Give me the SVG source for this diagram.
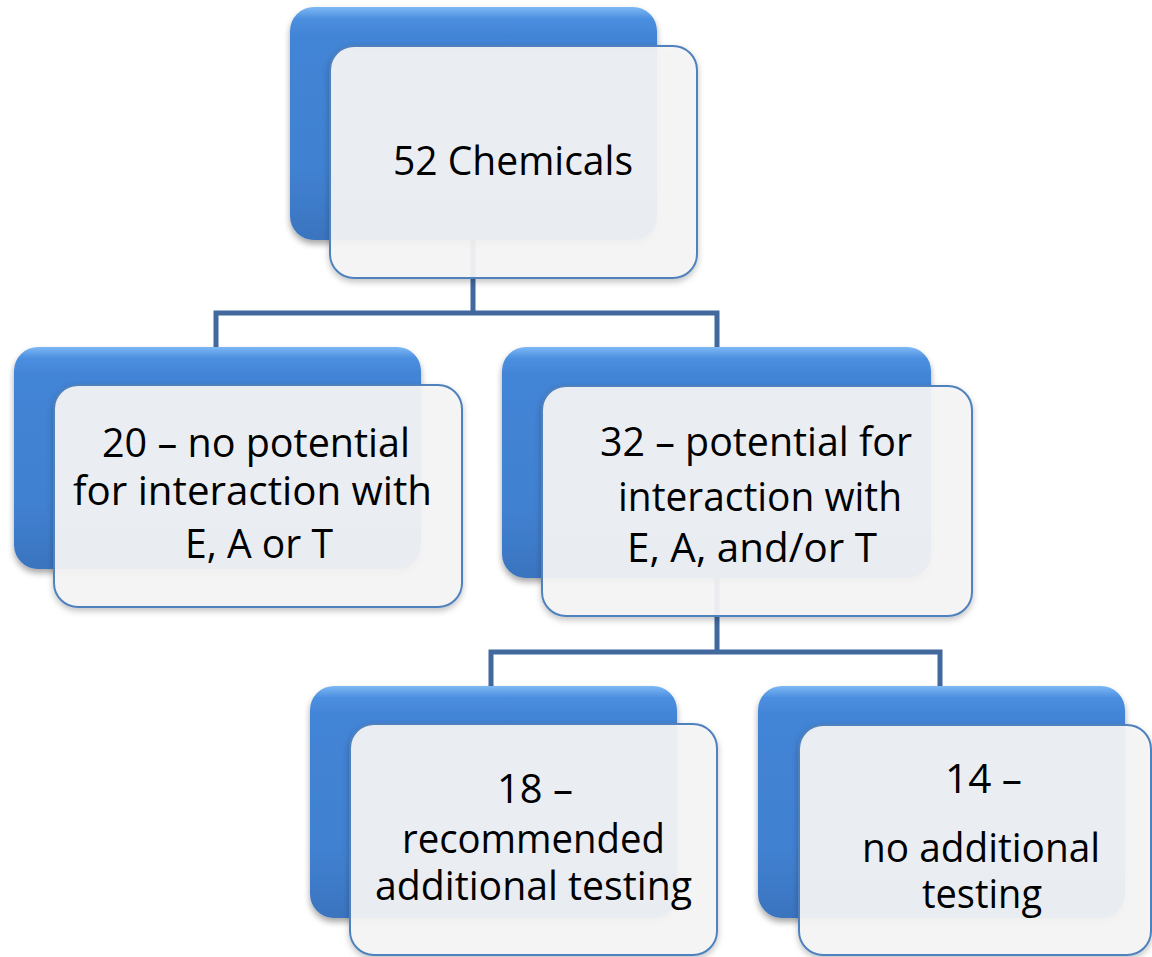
<svg xmlns="http://www.w3.org/2000/svg" width="1152" height="957" viewBox="0 0 1152 957">
<defs>
<linearGradient id="blueG" x1="0" y1="0" x2="0" y2="1">
<stop offset="0" stop-color="#7DB8F4"/>
<stop offset="0.05" stop-color="#4C8FE0"/>
<stop offset="0.12" stop-color="#4384D6"/>
<stop offset="0.7" stop-color="#4181D1"/>
<stop offset="1" stop-color="#3A74BF"/>
</linearGradient>
<filter id="sh" x="-10%" y="-10%" width="120%" height="125%">
<feDropShadow dx="0" dy="4" stdDeviation="3" flood-color="#000" flood-opacity="0.35"/>
</filter>
<filter id="sh2" x="-10%" y="-10%" width="120%" height="125%">
<feDropShadow dx="0" dy="3" stdDeviation="3" flood-color="#000" flood-opacity="0.25"/>
</filter>
<style>
.back{fill:url(#blueG);filter:url(#sh);}
.front{fill:#F5F5F5;fill-opacity:0.93;stroke:#4F81BD;stroke-width:2;filter:url(#sh2);}
.conn{fill:none;stroke:#41699E;stroke-width:5;stroke-linejoin:miter;}
.t{font-family:"Open Sans","Noto Sans",sans-serif;font-size:40px;fill:#000;}
</style>
</defs>
<rect width="1152" height="957" fill="#FFFFFF"/>
<g id="connectors">
<path class="conn" d="M473,230 V313 M216,350 V313 H717 V350"/>
<path class="conn" d="M717,570 V652 M491,688 V652 H940 V688"/>
</g>
<g id="node-52">
<rect class="back" x="290" y="7" width="367" height="233" rx="24"/>
<rect class="front" x="330" y="46" width="367" height="232" rx="24"/>
<text class="t" x="393" y="175" textLength="240" lengthAdjust="spacingAndGlyphs">52 Chemicals</text>
</g>
<g id="node-20">
<rect class="back" x="14" y="347" width="407" height="222" rx="24"/>
<rect class="front" x="54" y="385" width="408" height="222" rx="24"/>
<text class="t" x="102" y="457" textLength="308" lengthAdjust="spacingAndGlyphs">20 – no potential</text>
<text class="t" x="73" y="505" textLength="359" lengthAdjust="spacingAndGlyphs">for interaction with</text>
<text class="t" x="185" y="558" textLength="148" lengthAdjust="spacingAndGlyphs">E, A or T</text>
</g>
<g id="node-32">
<rect class="back" x="502" y="347" width="429" height="231" rx="24"/>
<rect class="front" x="542" y="386" width="430" height="230" rx="24"/>
<text class="t" x="600" y="456" textLength="312" lengthAdjust="spacingAndGlyphs">32 – potential for</text>
<text class="t" x="618" y="511" textLength="284" lengthAdjust="spacingAndGlyphs">interaction with</text>
<text class="t" x="627" y="562" textLength="250" lengthAdjust="spacingAndGlyphs">E, A, and/or T</text>
</g>
<g id="node-18">
<rect class="back" x="310" y="686" width="367" height="232" rx="24"/>
<rect class="front" x="350" y="724" width="367" height="231" rx="24"/>
<text class="t" x="497" y="803" textLength="76" lengthAdjust="spacingAndGlyphs">18 –</text>
<text class="t" x="402" y="853" textLength="263" lengthAdjust="spacingAndGlyphs">recommended</text>
<text class="t" x="375" y="900" textLength="317" lengthAdjust="spacingAndGlyphs">additional testing</text>
</g>
<g id="node-14">
<rect class="back" x="758" y="686" width="367" height="232" rx="24"/>
<rect class="front" x="799" y="725" width="352" height="230" rx="24"/>
<text class="t" x="945" y="793" textLength="77" lengthAdjust="spacingAndGlyphs">14 –</text>
<text class="t" x="862" y="862" textLength="238" lengthAdjust="spacingAndGlyphs">no additional</text>
<text class="t" x="922" y="908" textLength="120" lengthAdjust="spacingAndGlyphs">testing</text>
</g>
</svg>
